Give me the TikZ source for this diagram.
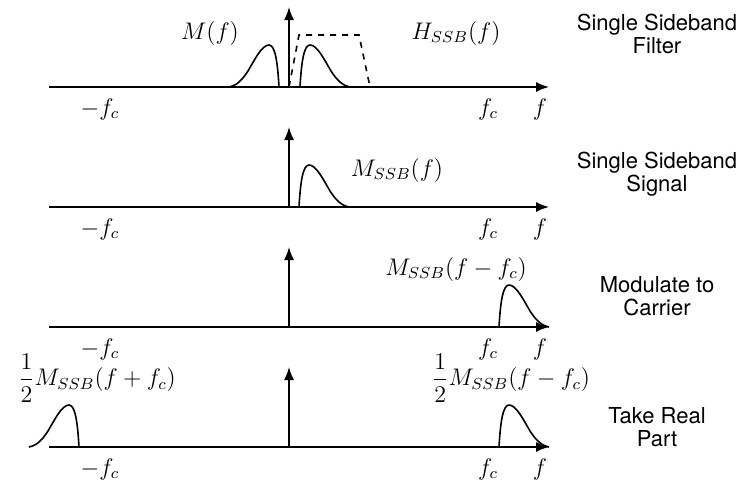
\documentclass[tikz,border=0pt]{standalone}
\usepackage{amsmath}
\usepackage{fontspec}
\setsansfont{TeX Gyre Heros}
\usetikzlibrary{arrows.meta}

\tikzset{
    axis/.style={line width=0.8pt, -{Latex[length=6.5pt,width=5pt]}},
    spec/.style={line width=0.8pt},
    mathlbl/.style={font=\fontsize{12}{14}\selectfont},
    stage/.style={align=center, font=\sffamily\fontsize{11}{11.5}\selectfont},
    sbpulse/.pic={
        \draw[spec] (0,0) .. controls (1.5,-26) and (4,-42) .. (10,-42)
            .. controls (17,-42) and (24,-28) .. (31,-16)
            .. controls (38,-5) and (44,-1) .. (50,0);
    }
}

\begin{document}
\begin{tikzpicture}[x=0.5pt, y=-0.5pt]
    \useasboundingbox (0,0) rectangle (742,482);
    % axes and ticks, one row per stage
    \foreach \i/\y in {1/87, 2/207, 3/327, 4/447} {
        \coordinate (xs\i) at (49,\y);
        \coordinate (xe\i) at (549,\y);
        \coordinate (o\i) at (289,\y);
        \coordinate (ye\i) at (289,\y-80);
        \draw[axis] (xs\i) -- (xe\i);
        \draw[axis] (o\i) -- (ye\i);
        \node[mathlbl, anchor=base] (mfc\i) at (100,\y+28) {\(-f_c\)};
        \node[mathlbl, anchor=base] (fc\i) at (488,\y+28) {\(f_c\)};
        \node[mathlbl, anchor=base] (f\i) at (540,\y+28) {\(f\)};
    }
    % stage 1: message and filter
    \path (279,87) pic[xscale=-1] {sbpulse};
    \path (300,87) pic {sbpulse};
    \draw[spec, dashed] (o1) -- (299,35) -- (359,35) -- (370,87);
    \node[mathlbl] (m) at (210,33) {\(M(f)\)};
    \node[mathlbl] (h) at (456,33) {\(H_{SSB}(f)\)};
    % stage 2
    \path (299,207) pic {sbpulse};
    \node[mathlbl] (mssb) at (397,170) {\(M_{SSB}(f)\)};
    % stage 3
    \path (499,327) pic {sbpulse};
    \node[mathlbl] (mmod) at (456,269) {\(M_{SSB}(f-f_c)\)};
    % stage 4
    \path (499,447) pic {sbpulse};
    \path (79,447) pic[xscale=-1] {sbpulse};
    \node[mathlbl] (mre) at (511,378) {\(\dfrac{1}{2}M_{SSB}(f-f_c)\)};
    \node[mathlbl] (mim) at (97,378) {\(\dfrac{1}{2}M_{SSB}(f+f_c)\)};
    % stage names
    \node[stage] (s1) at (657,34) {Single Sideband\\Filter};
    \node[stage] (s2) at (657,174) {Single Sideband\\Signal};
    \node[stage] (s3) at (657,296) {Modulate to\\Carrier};
    \node[stage] (s4) at (657,427) {Take Real\\Part};
\end{tikzpicture}
\end{document}
